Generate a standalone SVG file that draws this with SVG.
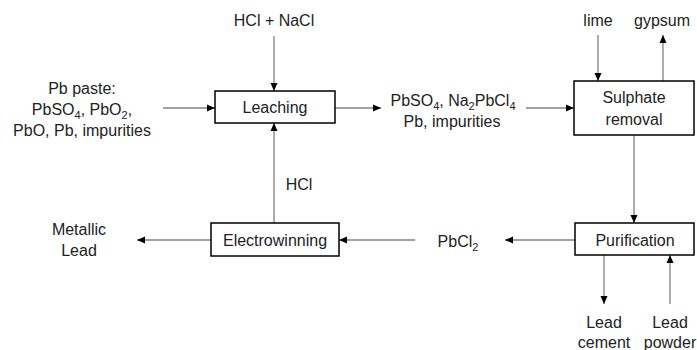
<svg xmlns="http://www.w3.org/2000/svg" width="697" height="350" viewBox="0 0 697 350">
<defs>
<marker id="ah" markerWidth="8" markerHeight="8" refX="8" refY="4" orient="auto" markerUnits="userSpaceOnUse">
<path d="M0,0.5 L8,4 L0,7.5 Z" fill="#000"/>
</marker>
</defs>
<style>
text{font-family:"Liberation Sans",Arial,sans-serif;font-size:16px;fill:#222;text-anchor:middle;dominant-baseline:central}
.box{fill:#fff;stroke:#000;stroke-width:1.5}
.c{stroke:#808080;stroke-width:1.3;fill:none;marker-end:url(#ah)}
.s{font-size:11px}
</style>
<rect width="697" height="350" fill="#fff"/>
<g id="connectors">
<line class="c" x1="274" y1="36" x2="274" y2="91"/>
<line class="c" x1="163" y1="108" x2="215" y2="108"/>
<line class="c" x1="274" y1="223" x2="274" y2="123"/>
<line class="c" x1="335" y1="108" x2="381" y2="108"/>
<line class="c" x1="526" y1="108" x2="574" y2="108"/>
<line class="c" x1="598" y1="35" x2="598" y2="81"/>
<line class="c" x1="663" y1="81" x2="663" y2="35"/>
<line class="c" x1="634" y1="135" x2="634" y2="223"/>
<line class="c" x1="575" y1="240" x2="505" y2="240"/>
<line class="c" x1="415" y1="240" x2="339" y2="240"/>
<line class="c" x1="211" y1="240" x2="137" y2="240"/>
<line class="c" x1="604" y1="255" x2="604" y2="304"/>
<line class="c" x1="670" y1="304" x2="670" y2="255"/>
</g>
<g id="leaching">
<rect class="box" x="215" y="91" width="120" height="32"/>
<text x="275" y="107">Leaching</text>
</g>
<g id="electrowinning">
<rect class="box" x="211" y="223" width="128" height="33"/>
<text x="275" y="240">Electrowinning</text>
</g>
<g id="sulphate">
<rect class="box" x="574" y="81" width="120" height="54"/>
<text x="634" y="97">Sulphate</text>
<text x="634" y="119">removal</text>
</g>
<g id="purification">
<rect class="box" x="575" y="223" width="119" height="32"/>
<text x="635" y="240">Purification</text>
</g>
<g id="labels">
<text x="274" y="20">HCl + NaCl</text>
<text x="82" y="88">Pb paste:</text>
<text x="82" y="109">PbSO<tspan class="s" dy="6">4</tspan><tspan dy="-6">, PbO</tspan><tspan class="s" dy="6">2</tspan><tspan dy="-6">,</tspan></text>
<text x="82" y="130">PbO, Pb, impurities</text>
<text x="299" y="184">HCl</text>
<text x="453" y="100">PbSO<tspan class="s" dy="6">4</tspan><tspan dy="-6">, Na</tspan><tspan class="s" dy="6">2</tspan><tspan dy="-6">PbCl</tspan><tspan class="s" dy="6">4</tspan></text>
<text x="452" y="121">Pb, impurities</text>
<text x="598" y="20">lime</text>
<text x="662" y="20">gypsum</text>
<text x="458" y="241">PbCl<tspan class="s" dy="6">2</tspan></text>
<text x="79" y="229">Metallic</text>
<text x="79" y="250">Lead</text>
<text x="604" y="322">Lead</text>
<text x="604" y="342">cement</text>
<text x="670" y="322">Lead</text>
<text x="670" y="342">powder</text>
</g>
</svg>
